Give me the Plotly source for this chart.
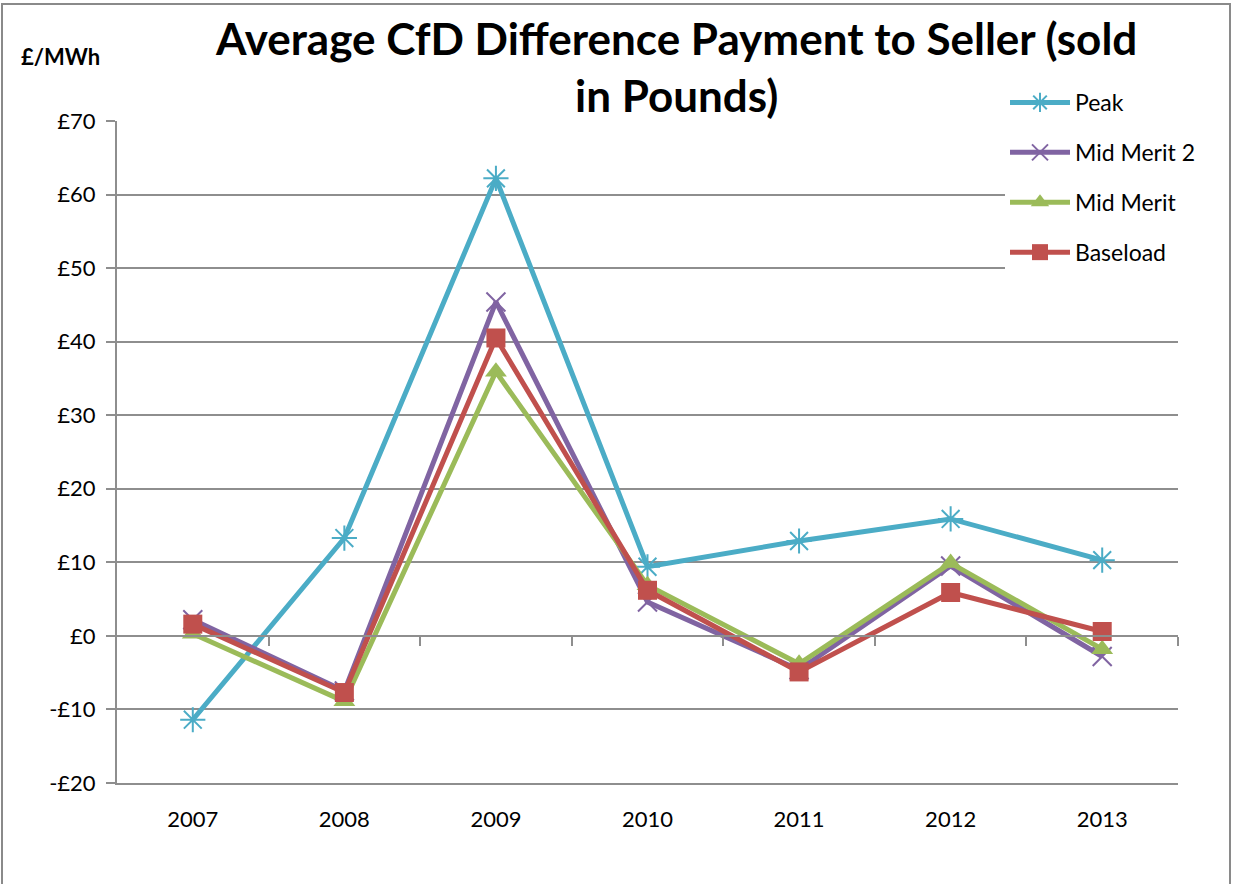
import plotly.graph_objects as go

# Annual average CfD difference payments, £/MWh
years = ["2007", "2008", "2009", "2010", "2011", "2012", "2013"]
peak = [-11.4, 13.3, 62.2, 9.4, 12.9, 15.9, 10.3]
mid_merit_2 = [2.2, -7.5, 45.4, 4.6, -4.6, 9.5, -2.8]
mid_merit = [0.3, -8.9, 35.9, 6.9, -3.8, 9.9, -1.8]
baseload = [1.6, -7.7, 40.5, 6.2, -4.9, 5.9, 0.6]

y_ticks = [70, 60, 50, 40, 30, 20, 10, 0, -10, -20]
y_labels = ["£70", "£60", "£50", "£40", "£30", "£20", "£10", "£0", "-£10", "-£20"]

FONT = "Lato"
GRID = "#8e8e8e"

series = [
    ("Peak", peak, "#4BACC6", dict(symbol="asterisk-open", size=21, line=dict(width=2, color="#4BACC6"))),
    ("Mid Merit 2", mid_merit_2, "#8064A2", dict(symbol="x-thin-open", size=19, line=dict(width=2, color="#8064A2"))),
    ("Mid Merit", mid_merit, "#9BBB59", dict(symbol="triangle-up", size=19, color="#9BBB59")),
    ("Baseload", baseload, "#C0504D", dict(symbol="square", size=19, color="#C0504D")),
]

fig = go.Figure()
for i, (name, vals, color, marker) in enumerate(series):
    fig.add_trace(go.Scatter(
        x=years, y=vals, name=name, mode="lines+markers",
        line=dict(color=color, width=5),
        marker=marker, legendgroup=str(i),
    ))

# invisible trace so the category-boundary axis at £0 is drawn
fig.add_trace(go.Scatter(x=years, y=baseload, xaxis="x2", mode="lines",
                         line=dict(width=0), opacity=0, showlegend=False, hoverinfo="skip"))

y_min, y_max = -20, 70
PLOT_BOTTOM, PLOT_H, PLOT_L, PLOT_W = 783, 662, 117, 1061


def px_x(x):
    return (x - PLOT_L) / PLOT_W


def px_y(y):
    return (PLOT_BOTTOM - y) / PLOT_H


fig.update_layout(
    width=1235, height=884,
    margin=dict(l=117, r=57, t=121, b=101),
    paper_bgcolor="white", plot_bgcolor="white",
    font=dict(family=FONT, color="#000000"),
    xaxis=dict(
        type="category", range=[-0.5, 6.5],
        showgrid=False, zeroline=False,
        showline=True, linecolor=GRID, linewidth=2,
        ticks="", tickfont=dict(size=22), ticklabelstandoff=16,
    ),
    xaxis2=dict(
        type="category", matches="x", overlaying="x", anchor="free",
        position=(0 - y_min) / (y_max - y_min),
        showgrid=False, zeroline=False, showline=True, linecolor=GRID, linewidth=2,
        ticks="outside", ticklen=9, tickwidth=2, tickcolor=GRID,
        tickvals=[0.5, 1.5, 2.5, 3.5, 4.5, 5.5, 6.5], showticklabels=False,
    ),
    yaxis=dict(
        range=[y_min, y_max], tickvals=y_ticks, ticktext=y_labels,
        showgrid=True, gridcolor=GRID, gridwidth=2, zeroline=False,
        showline=True, linecolor=GRID, linewidth=2,
        ticks="outside", ticklen=9, tickwidth=2, tickcolor=GRID,
        tickfont=dict(size=22), ticklabelstandoff=6,
    ),
    legend=dict(
        x=px_x(1005), xanchor="left",
        y=px_y(81), yanchor="top",
        bgcolor="white", borderwidth=0,
        font=dict(family=FONT, size=23, color="#000000"),
        itemwidth=60, tracegroupgap=17, traceorder="grouped",
    ),
    annotations=[
        dict(
            text="<b>Average CfD Difference Payment to Seller (sold<br>in Pounds)</b>",
            xref="paper", yref="paper", x=px_x(676), y=px_y(67),
            xanchor="center", yanchor="middle", align="center", showarrow=False,
            font=dict(family=FONT, size=44, color="#000000"),
        ),
        dict(
            text="<b>£/MWh</b>", xref="paper", yref="paper",
            x=px_x(60), y=px_y(57),
            xanchor="center", yanchor="middle", showarrow=False,
            font=dict(family=FONT, size=22, color="#000000"),
        ),
    ],
    shapes=[dict(
        type="rect", xref="paper", yref="paper",
        x0=px_x(2), x1=px_x(1230),
        y0=px_y(894), y1=px_y(4),
        line=dict(color="#8a8a8a", width=2), fillcolor="rgba(0,0,0,0)", layer="below",
    )],
)

fig.write_html("out.html")
